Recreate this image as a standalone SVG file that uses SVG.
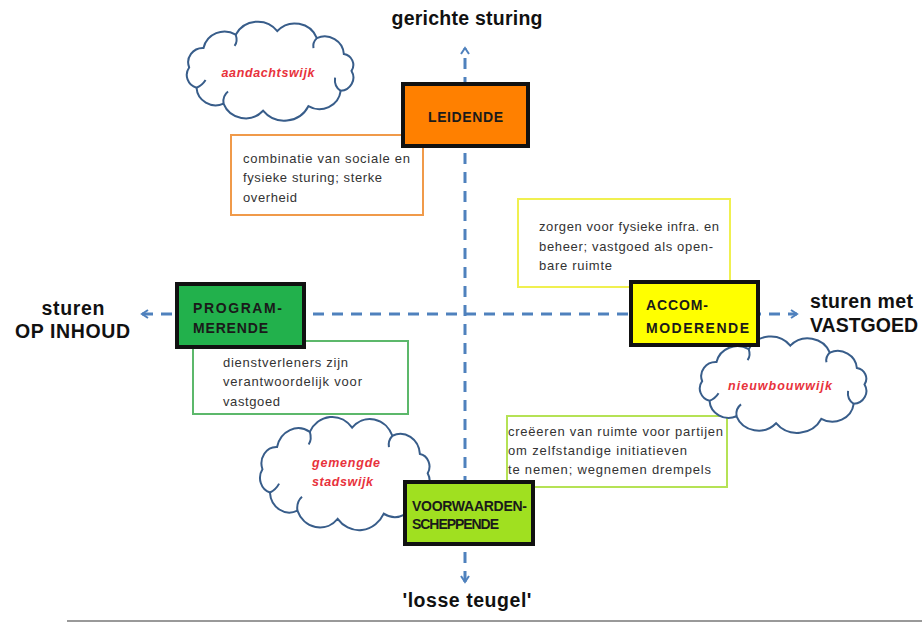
<svg xmlns="http://www.w3.org/2000/svg" xmlns:xlink="http://www.w3.org/1999/xlink" width="922" height="623" viewBox="0 0 922 623">
<style>
.axis{fill:none;stroke:#4f81bd;stroke-width:3;stroke-dasharray:11 8}
.desc{fill:#fff;stroke-width:2}
.dt{font-family:"Liberation Sans",Arial,sans-serif;font-size:13px;fill:#333}
.box{stroke:#111;stroke-width:4}
.bl{font-family:"Liberation Sans",Arial,sans-serif;font-size:14px;font-weight:bold;fill:#1a1a1a}
.ax{font-family:"Liberation Sans",Arial,sans-serif;font-size:19.5px;font-weight:bold;fill:#111}
.cl{font-family:"Liberation Sans",Arial,sans-serif;font-size:12.5px;font-weight:bold;font-style:italic;fill:#e8323c}
.cloud{fill:#fff;stroke:#385d8a;stroke-width:2;vector-effect:non-scaling-stroke}
.curl{fill:none;stroke:#385d8a;stroke-width:2;vector-effect:non-scaling-stroke}
</style>
<defs>
<marker id="chev" viewBox="0 0 10 10" refX="8" refY="5" markerWidth="10" markerHeight="10" markerUnits="userSpaceOnUse" orient="auto-start-reverse">
<path d="M2,1 L8,5 L2,9" fill="none" stroke="#4f81bd" stroke-width="2"/>
</marker>
<g id="cloudshape">
<path class="cloud" d="M158,49 A12,12 0 0 1 148.4,67 A19,19 0 0 1 119.8,80.8 A24,24 0 0 1 79.7,84.9 A21,21 0 0 1 44.7,78.5 A17,17 0 0 1 20.8,64.2 A12,12 0 0 1 14.3,45.9 A13,13 0 0 1 27,28.3 A19,19 0 0 1 55.5,16.4 A22,22 0 0 1 92.3,13.1 A21,21 0 0 1 127.3,19.5 A17,17 0 0 1 151.2,33.8 A10,10 0 0 1 158,49 Z"/>
<path class="curl" d="M148.4,67 q-6,-4 -5,-12"/>
<path class="curl" d="M44.7,78.5 q-1,-7 4,-11"/>
<path class="curl" d="M55.5,16.4 q2,6 -1,10"/>
<path class="curl" d="M127.3,19.5 q-4,4 -3,9"/>
<path class="curl" d="M20.8,64.2 q5,-2 8,-7"/>
</g>
</defs>
<rect width="922" height="623" fill="#fff"/>
<g id="connectors">
<line class="axis" x1="465" y1="582" x2="465" y2="48" marker-end="url(#chev)" marker-start="url(#chev)"/>
<line class="axis" x1="142" y1="314" x2="797" y2="314" marker-end="url(#chev)" marker-start="url(#chev)"/>
</g>
<line x1="67" y1="621" x2="922" y2="621" stroke="#999" stroke-width="2"/>
<g id="label-top"><text class="ax" x="467" y="25" text-anchor="middle" textLength="151">gerichte sturing</text></g>
<g id="label-left"><text class="ax" x="73" y="315" text-anchor="middle" textLength="63">sturen</text><text class="ax" x="15" y="338" textLength="115">OP INHOUD</text></g>
<g id="label-right"><text class="ax" x="810" y="308" textLength="103">sturen met</text><text class="ax" x="810" y="332" textLength="108">VASTGOED</text></g>
<g id="label-bottom"><text class="ax" x="467" y="607" text-anchor="middle" textLength="129">'losse teugel'</text></g>
<g id="desc-leidende"><rect class="desc" x="231" y="135" width="192" height="80" stroke="#f09a4a"/>
<text class="dt" x="243" y="163" textLength="167">combinatie van sociale en</text>
<text class="dt" x="243" y="182" textLength="139">fysieke sturing; sterke</text>
<text class="dt" x="243" y="202" textLength="54">overheid</text></g>
<g id="desc-accommoderende"><rect class="desc" x="518" y="199" width="212" height="88" stroke="#f0f050"/>
<text class="dt" x="539" y="231" textLength="180">zorgen voor fysieke infra. en</text>
<text class="dt" x="539" y="251" textLength="174">beheer; vastgoed als open-</text>
<text class="dt" x="539" y="270" textLength="73">bare ruimte</text></g>
<g id="desc-programmerende"><rect class="desc" x="193" y="341" width="215" height="73" stroke="#5cb86b"/>
<text class="dt" x="223" y="367" textLength="125">dienstverleners zijn</text>
<text class="dt" x="223" y="386" textLength="139">verantwoordelijk voor</text>
<text class="dt" x="223" y="406" textLength="57">vastgoed</text></g>
<g id="desc-voorwaardenscheppende"><rect class="desc" x="507" y="416" width="220" height="71" stroke="#b5e255"/>
<text class="dt" x="508" y="436" textLength="215">creëeren van ruimte voor partijen</text>
<text class="dt" x="508" y="455" textLength="179">om zelfstandige initiatieven</text>
<text class="dt" x="508" y="474" textLength="203">te nemen; wegnemen drempels</text></g>
<g id="cloud-aandachtswijk"><use xlink:href="#cloudshape" transform="translate(173,16.5) scale(1.13,1.11)"/>
<text class="cl" x="268" y="77" text-anchor="middle" textLength="93">aandachtswijk</text></g>
<g id="cloud-nieuwbouwwijk"><use xlink:href="#cloudshape" transform="translate(686,331.5) scale(1.13,1.08)"/>
<text class="cl" x="780" y="390" text-anchor="middle" textLength="104">nieuwbouwwijk</text></g>
<g id="cloud-gemengde-stadswijk"><use xlink:href="#cloudshape" transform="translate(246,411) scale(1.15,1.27)"/>
<text class="cl" x="312" y="467" textLength="68">gemengde</text>
<text class="cl" x="312" y="486" textLength="61">stadswijk</text></g>
<g id="node-leidende"><rect class="box" x="403" y="84" width="125" height="62" fill="#ff8000"/>
<text class="bl" x="428" y="122" textLength="75">LEIDENDE</text></g>
<g id="node-programmerende"><rect class="box" x="177" y="284" width="127" height="63" fill="#22b14c"/>
<text class="bl" x="193" y="313" textLength="89">PROGRAM-</text>
<text class="bl" x="193" y="333" textLength="75">MERENDE</text></g>
<g id="node-accommoderende"><rect class="box" x="631" y="282" width="127" height="63" fill="#ffff00"/>
<text class="bl" x="646" y="310" textLength="62">ACCOM-</text>
<text class="bl" x="646" y="333" textLength="103">MODERENDE</text></g>
<g id="node-voorwaardenscheppende"><rect class="box" x="405" y="482" width="128" height="62" fill="#a0e020"/>
<text class="bl" x="412" y="511" textLength="115">VOORWAARDEN-</text>
<text class="bl" x="412" y="529" textLength="87">SCHEPPENDE</text></g>
</svg>
